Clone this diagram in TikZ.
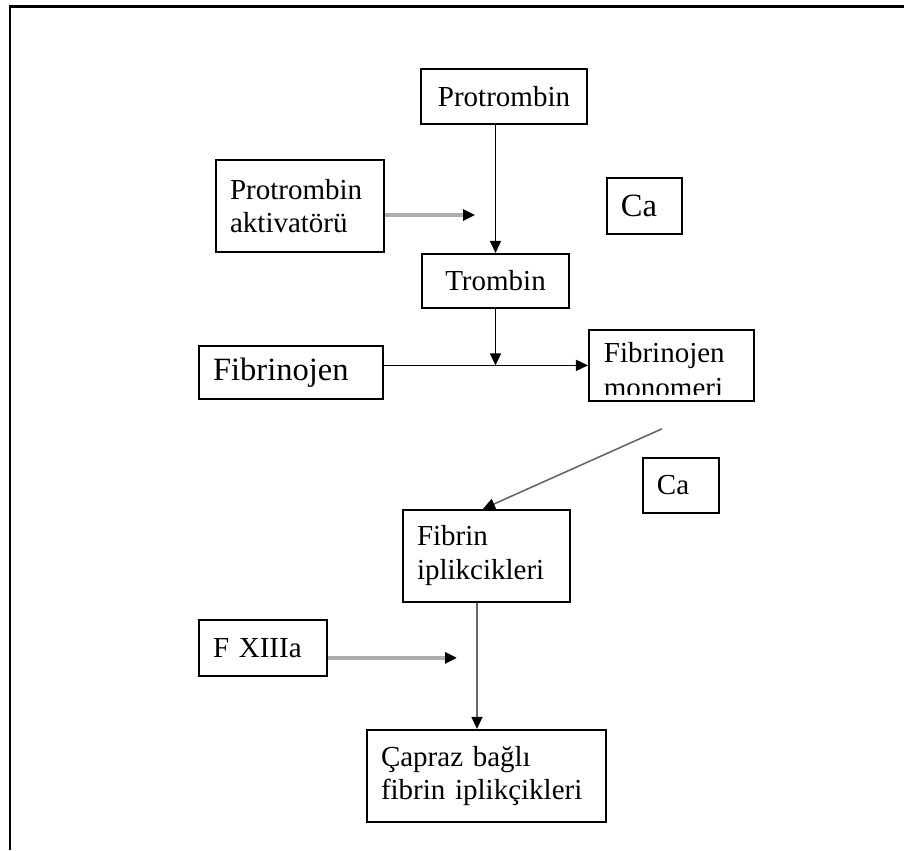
\documentclass[tikz,border=0pt]{standalone}
\usepackage{fontspec}
\setmainfont{Liberation Serif}
\usepackage{tikz}
\usetikzlibrary{arrows.meta, positioning, calc}

\begin{document}
\begin{tikzpicture}[
    box/.style={rectangle, draw, line width=1.1pt, inner xsep=0.28cm, inner ysep=0pt, align=left, font=\fontsize{16.5}{18.5}\selectfont},
    bigbox/.style={box, font=\fontsize{18.5}{21}\selectfont},
    arrow/.style={-{Triangle[length=0.24cm, width=0.22cm]}, line width=0.9pt},
    grayarrow/.style={-{Triangle[length=0.24cm, width=0.22cm, color=black]}, line width=2pt, draw=black!32},
    thinarrow/.style={-{Triangle[length=0.24cm, width=0.22cm, color=black]}, line width=0.9pt, draw=black!60}
]
\useasboundingbox (0,0) rectangle (18.08,-17);
\draw[line width=1.3pt] (0.2,-17) -- (0.2,-0.13) -- (18.08,-0.13);

\node[box, align=center, text width=2.76cm, minimum height=1.1cm] (protrombin) at (10.08,-1.93) {Protrombin};
\node[box, align=center, text width=2.38cm, minimum height=1.08cm, below=2.56cm of protrombin, xshift=-0.17cm] (trombin) {Trombin};
\node[box, text width=2.8cm, minimum height=1.84cm, left=0.7cm of protrombin, yshift=-2.19cm] (aktivator) {Protrombin\\aktivatörü};
\node[bigbox, text width=0.94cm, minimum height=1.12cm, right=0.36cm of protrombin, yshift=-2.19cm] (ca1) {Ca};
\node[bigbox, text width=3.12cm, minimum height=1.06cm, below=1.84cm of aktivator, xshift=-0.18cm] (fibrinojen) {Fibrinojen};
\node[box, text width=2.74cm, minimum height=1.42cm, below right=0.4cm and 0.36cm of trombin,
    path picture={
        \clip ([yshift=0.12cm]path picture bounding box.south west) rectangle (path picture bounding box.north east);
        \node[anchor=north west, inner sep=0pt, align=left, text width=2.74cm, font=\fontsize{16.5}{20}\selectfont]
            at ([xshift=0.28cm, yshift=-0.07cm]path picture bounding box.north west) {Fibrinojen\\monomeri};
    }] (mono) {};
\node[box, text width=0.96cm, minimum height=1.1cm, below=1.1cm of mono, xshift=0.19cm] (ca2) {Ca};
\node[box, text width=2.78cm, minimum height=1.84cm, below=4cm of trombin, xshift=-0.18cm, font=\fontsize{16.5}{19.5}\selectfont] (fibrin) {Fibrin\\iplikcikleri};
\node[box, text width=2cm, minimum height=1.12cm, below=4.38cm of fibrinojen, xshift=-0.56cm] (fxiii) {F XIIIa};
\node[box, text width=4.22cm, minimum height=1.84cm, below=2.52cm of fibrin] (capraz) {Çapraz bağlı\\fibrin iplikçikleri};

\coordinate (aktend) at ($(aktivator.east)+(1.8,-0.18)$);
\coordinate (fxend) at ($(fxiii.east)+(2.58,-0.2)$);
\coordinate (diagstart) at ($(mono.south)+(-0.19,-0.54)$);
\coordinate (junction) at (trombin.south |- mono.west);

\draw[arrow] (protrombin.south -| trombin) -- (trombin.north);
\draw[grayarrow] (aktivator.east |- aktend) -- (aktend);
\draw[arrow] (trombin.south) -- (junction);
\draw[arrow] (fibrinojen.east |- mono.west) -- (mono.west);
\draw[thinarrow] (diagstart) -- ([xshift=-0.07cm]fibrin.north);
\draw[thinarrow] ([xshift=-0.19cm]fibrin.south) -- ([xshift=-0.19cm]capraz.north);
\draw[grayarrow] (fxiii.east |- fxend) -- (fxend);
\end{tikzpicture}
\end{document}
